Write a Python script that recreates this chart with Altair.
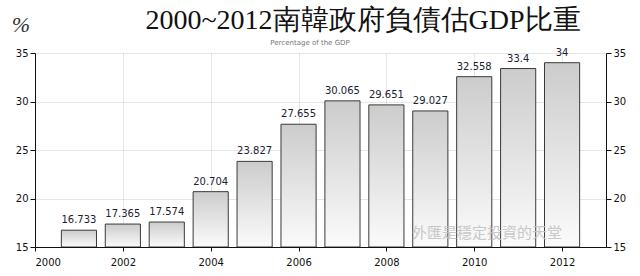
import altair as alt
import pandas as pd

years = [2001, 2002, 2003, 2004, 2005, 2006, 2007, 2008, 2009, 2010, 2011, 2012]
values = [16.733, 17.365, 17.574, 20.704, 23.827, 27.655, 30.065, 29.651, 29.027, 32.558, 33.4, 34]
labels = ["16.733", "17.365", "17.574", "20.704", "23.827", "27.655", "30.065", "29.651", "29.027", "32.558", "33.4", "34"]
x_ticks = [2000, 2002, 2004, 2006, 2008, 2010, 2012]
y_ticks = [15, 20, 25, 30, 35]
title_text = "2000~2012南韓政府負債估GDP比重"
subtitle_text = "Percentage of the GDP"
unit_text = "%"
watermark_text = "外匯是穩定投資的天堂"

df = pd.DataFrame({"year": years, "value": values, "label": labels})

W, H = 571, 194

xs = alt.Scale(domain=[2000, 2013], nice=False, zero=False)
ys = alt.Scale(domain=[15, 35], nice=False, zero=False)

axis_common = dict(
    labelFont="DejaVu Sans", labelFontSize=10, labelFontWeight=500, labelColor="#111",
    domainColor="#111", tickColor="#111", title=None,
)

x_axis = alt.Axis(
    values=x_ticks, format="d", orient="bottom", tickSize=4, labelPadding=6,
    grid=True, gridColor="#cccccc", gridDash=[1, 1], **axis_common)

base = alt.Chart(df)

bars = base.transform_calculate(
    x0="datum.year - 0.4", x1="datum.year + 0.4"
).mark_bar(
    fill=alt.Gradient(
        gradient="linear", x1=0, y1=0, x2=0, y2=1,
        stops=[alt.GradientStop(color="#cccccc", offset=0),
               alt.GradientStop(color="#fbfbfb", offset=1)],
    ),
    stroke="#3a3a3a", strokeWidth=1, clip=True,
).encode(
    x=alt.X("x0:Q", scale=xs, axis=x_axis),
    x2="x1:Q",
    y=alt.Y("value:Q", scale=ys, axis=alt.Axis(
        values=y_ticks, orient="left", tickSize=5, grid=True, gridColor="#cccccc",
        gridDash=[1, 1], labelPadding=2, **axis_common)),
    y2=alt.datum(15),
)

right_axis = base.mark_point(opacity=0).encode(
    x=alt.X("year:Q", scale=xs, axis=x_axis),
    y=alt.Y("value:Q", scale=ys, axis=alt.Axis(
        values=y_ticks, orient="right", tickSize=5, grid=False, labelPadding=2, **axis_common)),
)

texts = base.mark_text(
    baseline="bottom", dy=-5, font="DejaVu Sans", fontSize=10, color="#1a2233"
).encode(
    x=alt.X("year:Q", scale=xs, axis=x_axis),
    y=alt.Y("value:Q", scale=ys, axis=None),
    text="label:N",
)

title = alt.Chart(pd.DataFrame({"t": [title_text]})).mark_text(
    font="Liberation Serif", fontSize=28, color="#111", baseline="alphabetic"
).encode(x=alt.value(328), y=alt.value(-24), text="t:N")

subtitle = alt.Chart(pd.DataFrame({"t": [subtitle_text]})).mark_text(
    font="DejaVu Sans", fontSize=7, color="#777"
).encode(x=alt.value(275), y=alt.value(-10), text="t:N")

unit = alt.Chart(pd.DataFrame({"t": [unit_text]})).mark_text(
    font="Liberation Serif", fontSize=22, fontStyle="italic", color="#333", baseline="alphabetic"
).encode(x=alt.value(-14), y=alt.value(-21), text="t:N")

watermark = alt.Chart(pd.DataFrame({"t": [watermark_text]})).mark_text(
    font="Noto Sans CJK TC", fontSize=15, color="#c4c4c4", opacity=0.9
).encode(x=alt.value(452), y=alt.value(180), text="t:N")

chart = alt.layer(bars, right_axis, texts, watermark, title, subtitle, unit).resolve_scale(
    y="independent"
).properties(
    width=W, height=H,
    autosize=alt.AutoSizeParams(type="none"),
    padding={"left": 35, "top": 53, "right": 34, "bottom": 29},
    background="white",
).configure_view(stroke=None)

chart.save("out.html", embed_options={"renderer": "svg", "actions": False})
